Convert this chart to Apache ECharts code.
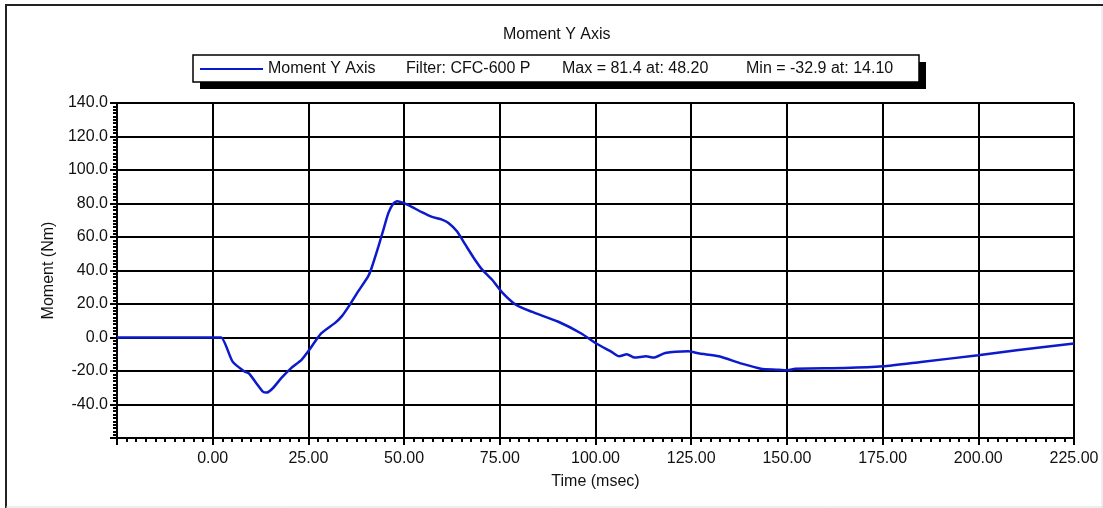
<!DOCTYPE html>
<html>
<head>
<meta charset="utf-8">
<script src="https://cdn.jsdelivr.net/npm/echarts@6/dist/echarts.min.js"></script>
<style>
html,body{margin:0;padding:0;background:#fff;}
#chart{width:1103px;height:508px;}
</style>
</head>
<body>
<div id="chart"></div>
<script>
var chartTitle = 'Moment Y Axis';
var seriesName = 'Moment Y Axis';
var legendExtras = ['Filter: CFC-600 P', 'Max = 81.4 at: 48.20', 'Min = -32.9 at: 14.10'];
var xAxisName = 'Time (msec)';
var yAxisName = 'Moment (Nm)';

var timeMs = [-25, 0, 2.2, 5.2, 8.3, 9.5, 11.4, 13.1, 14.1, 15.7, 17.9, 20.5, 23.2, 24.9, 28.4, 31.9, 33.7, 35.8, 38.0, 40.6, 41.5, 43.3, 44.6, 45.9, 47.2, 48.2, 49.8, 52.0, 54.6, 57.3, 59.9, 61.6, 63.8, 66.0, 68.2, 70.4, 73.0, 75.6, 79.3, 83.3, 90.3, 96.3, 100.2, 104.2, 106.2, 108.2, 110.2, 113.2, 115.2, 118.2, 124.2, 127.2, 132.2, 138.2, 143.2, 147.2, 150.2, 152.2, 165.1, 175.1, 185.0, 200.0, 210.0, 225.0];
var momentNm = [0, 0, 0, -14.4, -20.3, -21.5, -27.3, -32.3, -32.9, -30.3, -24.3, -18.3, -13.4, -8.4, 2.6, 8.6, 12.6, 19.5, 27.5, 36.5, 41.5, 54.4, 64.4, 74.4, 80.0, 81.4, 80.4, 78.0, 74.8, 72.0, 70.4, 68.4, 63.4, 55.4, 47.5, 40.5, 34.5, 27.0, 19.4, 15.4, 9.4, 2.4, -3.6, -8.6, -11.2, -10.0, -12.0, -11.2, -12.0, -9.2, -8.2, -9.6, -11.2, -15.6, -18.6, -19.2, -19.6, -18.6, -18.2, -17.2, -14.6, -10.6, -7.6, -3.6];

var xMin = -25, xMax = 225, xStep = 25;
var yMin = -60, yMax = 140, yStep = 20;

var seriesData = timeMs.map(function (t, i) { return [t, momentNm[i]]; });

var FONT = "'Liberation Sans', Arial, sans-serif";
var chart = echarts.init(document.getElementById('chart'), null, {renderer: 'canvas'});

var axisCommon = {
  axisLine: {show: true, onZero: false, lineStyle: {color: '#000', width: 2}},
  axisTick: {show: true, length: 7, lineStyle: {color: '#000', width: 2}},
  minorTick: {show: true, splitNumber: 10, length: 4, lineStyle: {color: '#000', width: 2}},
  splitLine: {show: true, lineStyle: {color: '#000', width: 2}}
};

chart.setOption({
  animation: false,
  backgroundColor: '#fff',
  textStyle: {fontFamily: FONT},
  title: {
    text: chartTitle,
    left: 503, top: 27, padding: 0,
    textStyle: {fontFamily: FONT, fontSize: 16, fontWeight: 'normal', color: '#111'}
  },
  legend: {
    data: [seriesName],
    left: 200, top: 61, padding: 0,
    icon: 'rect', itemWidth: 63, itemHeight: 2,
    textStyle: {fontFamily: FONT, fontSize: 16, color: '#111'}
  },
  grid: {left: 117, right: 29, top: 103, bottom: 70, containLabel: false},
  xAxis: Object.assign({
    type: 'value', min: xMin, max: xMax, interval: xStep,
    name: xAxisName, nameLocation: 'middle', nameGap: 36,
    nameTextStyle: {fontFamily: FONT, fontSize: 16, color: '#111'},
    axisLabel: {
      margin: 13, fontFamily: FONT, fontSize: 16, color: '#111',
      formatter: function (v) { return v === xMin ? '' : v.toFixed(2); }
    }
  }, axisCommon),
  yAxis: Object.assign({
    type: 'value', min: yMin, max: yMax, interval: yStep,
    name: yAxisName, nameLocation: 'middle', nameGap: 56,
    nameTextStyle: {fontFamily: FONT, fontSize: 16, color: '#111'},
    axisLabel: {
      margin: 9, fontFamily: FONT, fontSize: 16, color: '#111',
      formatter: function (v) { return v === yMin ? '' : v.toFixed(1); }
    }
  }, axisCommon),
  graphic: [
    {type: 'line', z: 0, shape: {x1: 5, y1: 5, x2: 1103, y2: 5}, style: {stroke: '#222', lineWidth: 2}},
    {type: 'line', z: 0, shape: {x1: 6, y1: 5, x2: 6, y2: 508}, style: {stroke: '#222', lineWidth: 2}},
    {type: 'line', z: 0, shape: {x1: 1102, y1: 6, x2: 1102, y2: 508}, style: {stroke: '#ddd', lineWidth: 1}},
    {type: 'line', z: 0, shape: {x1: 6, y1: 507, x2: 1103, y2: 507}, style: {stroke: '#ddd', lineWidth: 1}},
    {type: 'rect', z: 0, shape: {x: 200, y: 62, width: 726, height: 27}, style: {fill: '#000'}},
    {type: 'rect', z: 1, shape: {x: 193, y: 55, width: 726, height: 27}, style: {fill: '#fff', stroke: '#000', lineWidth: 1.5}},
    {type: 'text', z: 3, x: 406, y: 69, style: {text: legendExtras[0], font: '16px ' + FONT, fill: '#111', textVerticalAlign: 'middle'}},
    {type: 'text', z: 3, x: 562, y: 69, style: {text: legendExtras[1], font: '16px ' + FONT, fill: '#111', textVerticalAlign: 'middle'}},
    {type: 'text', z: 3, x: 746, y: 69, style: {text: legendExtras[2], font: '16px ' + FONT, fill: '#111', textVerticalAlign: 'middle'}}
  ],
  series: [{
    name: seriesName,
    type: 'line',
    data: seriesData,
    symbol: 'none',
    smooth: 0.2,
    color: '#0d1acc',
    lineStyle: {color: '#0d1acc', width: 2.5},
    z: 5
  }]
});
</script>
</body>
</html>
